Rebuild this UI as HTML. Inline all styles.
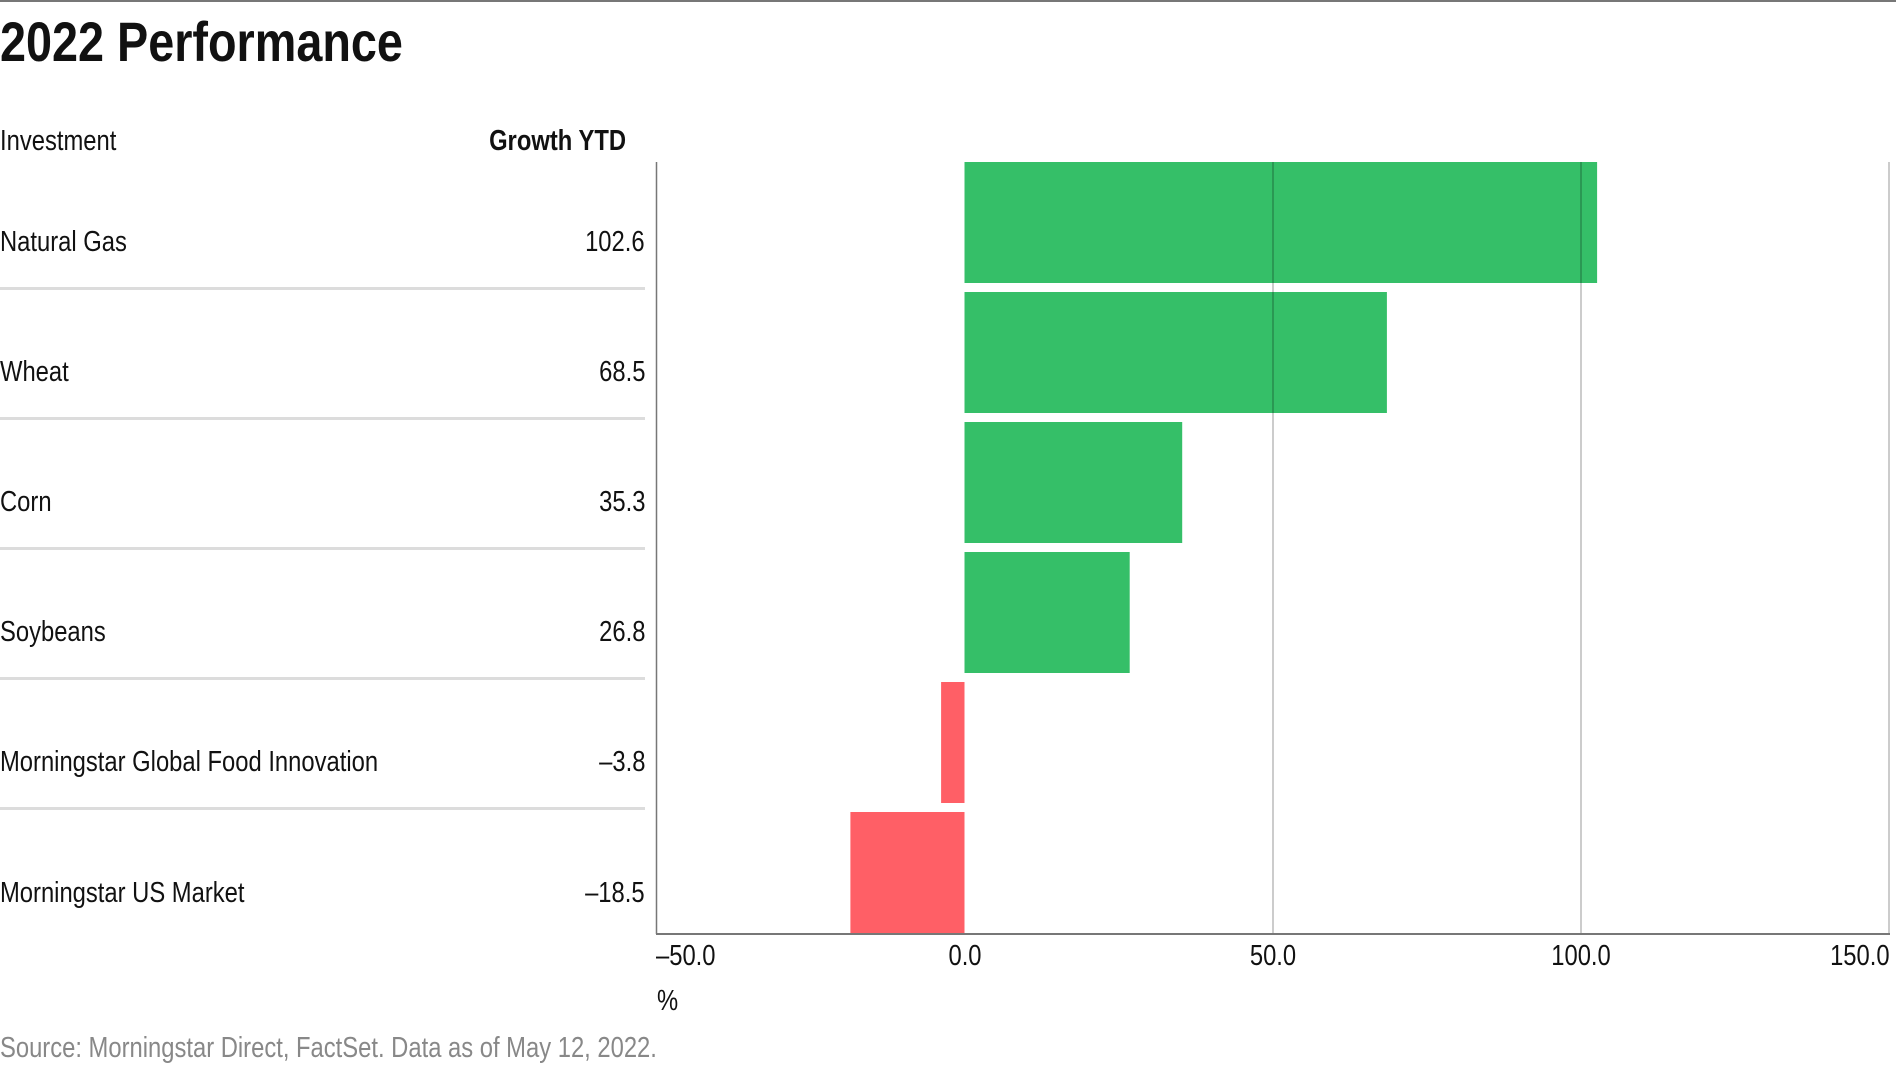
<!DOCTYPE html>
<html><head><style>
body{margin:0;width:1896px;height:1065px;background:#fff;position:relative;overflow:hidden;font-family:"Liberation Sans Narrow","Liberation Sans",sans-serif;color:#111}
.t{position:absolute;white-space:nowrap;line-height:1;font-size:29px}
.l{transform:scaleX(0.82);transform-origin:left center}
.r{transform:scaleX(0.82);transform-origin:right center;text-align:right}
.c{transform:translateX(-50%) scaleX(0.82);}
</style></head><body>
<div style="position:absolute;left:0;top:0;width:1896px;height:2px;background:#777"></div>
<svg width="1896" height="1065" style="position:absolute;left:0;top:0">
<g fill="#dcdcdc">
<rect x="0" y="287" width="645" height="3"/><rect x="0" y="417" width="645" height="3"/><rect x="0" y="547" width="645" height="3"/><rect x="0" y="677" width="645" height="3"/><rect x="0" y="807" width="645" height="3"/>
</g>
<rect x="964.5" y="162" width="632.6" height="121" fill="#35bf68"/>
<rect x="964.5" y="292" width="422.4" height="121" fill="#35bf68"/>
<rect x="964.5" y="422" width="217.7" height="121" fill="#35bf68"/>
<rect x="964.5" y="552" width="165.2" height="121" fill="#35bf68"/>
<rect x="941.1" y="682" width="23.4" height="121" fill="#ff5f66"/>
<rect x="850.4" y="812" width="114.1" height="121" fill="#ff5f66"/>
<g stroke="rgba(0,0,0,0.4)" stroke-width="1">
<line x1="1273" y1="162" x2="1273" y2="934"/>
<line x1="1581" y1="162" x2="1581" y2="934"/>
<line x1="1889" y1="162" x2="1889" y2="934"/>
</g>
<line x1="656.5" y1="162" x2="656.5" y2="934" stroke="#777" stroke-width="1.5"/>
<line x1="656" y1="934" x2="1890" y2="934" stroke="#777" stroke-width="2"/>
</svg>
<div class="t" style="left:0;top:14px;font-size:56px;font-weight:bold;transform:scaleX(0.835);transform-origin:left">2022 Performance</div>
<div class="t l" style="left:0;top:127px">Investment</div>
<div class="t r" style="right:1270px;top:127px;font-weight:bold">Growth YTD</div>

<div class="t l" style="left:0;top:228px">Natural Gas</div><div class="t r" style="right:1251px;top:228px">102.6</div>
<div class="t l" style="left:0;top:358px">Wheat</div><div class="t r" style="right:1251px;top:358px">68.5</div>
<div class="t l" style="left:0;top:488px">Corn</div><div class="t r" style="right:1251px;top:488px">35.3</div>
<div class="t l" style="left:0;top:618px">Soybeans</div><div class="t r" style="right:1251px;top:618px">26.8</div>
<div class="t l" style="left:0;top:748px">Morningstar Global Food Innovation</div><div class="t r" style="right:1251px;top:748px">–3.8</div>
<div class="t l" style="left:0;top:879px">Morningstar US Market</div><div class="t r" style="right:1251px;top:879px">–18.5</div>

<div class="t l" style="left:656px;top:942px">–50.0</div>
<div class="t c" style="left:964.5px;top:942px">0.0</div>
<div class="t c" style="left:1273px;top:942px">50.0</div>
<div class="t c" style="left:1581px;top:942px">100.0</div>
<div class="t r" style="right:6px;top:942px">150.0</div>
<div class="t l" style="left:657px;top:987px">%</div>
<div class="t l" style="left:0;top:1034px;color:#888">Source: Morningstar Direct, FactSet. Data as of May 12, 2022.</div>
</body></html>
